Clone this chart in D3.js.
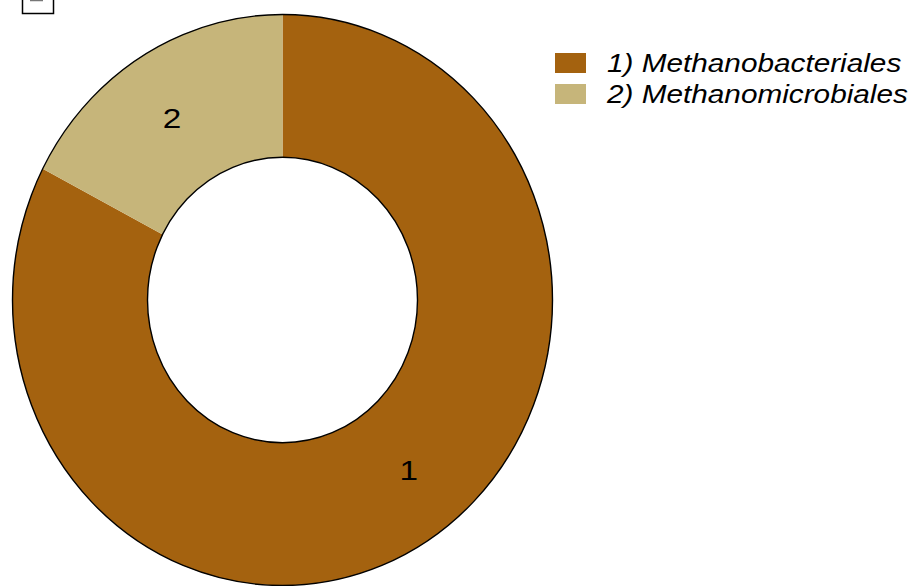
<!DOCTYPE html>
<html>
<head>
<meta charset="utf-8">
<script src="https://cdn.jsdelivr.net/npm/d3@7"></script>
<style>
  body { margin: 0; background: #fff; }
  svg { display: block; }
</style>
</head>
<body>
<div id="chart"></div>
<script>
// data
var orders = ['1) Methanobacteriales', '2) Methanomicrobiales'];
var labels = ['1', '2'];
var shares = [82.6, 17.4];
// where the number labels sit, as a fraction of the ring (clockwise from top)
var labelAt = [0.394, 0.909];
var colours = ['#a4620f', '#c6b57a'];

var w = 916, h = 586;

var svg = d3.select('#chart')
    .append('svg')
    .attr('width', w)
    .attr('height', h);

// ring is slightly taller than wide (polar coords stretched to panel)
var cx = 282.5, cy = 300;
var rx = 270, ry = 285.5;
var inner = 0.5;
// text in the original is drawn a bit wider than normal
var textStretch = 1.19;

var pie = d3.pie().sort(null).value(function (d) { return d; });
var arcs = pie(shares);

var arc = d3.arc()
    .innerRadius(rx * inner)
    .outerRadius(rx);

var ring = svg.append('g')
    .attr('transform', 'translate(' + cx + ',' + cy + ') scale(1,' + (ry / rx) + ')');

ring.selectAll('path.slice')
    .data(arcs)
    .enter()
    .append('path')
    .attr('class', 'slice')
    .attr('d', arc)
    .attr('fill', function (d, i) { return colours[i]; });

// outline only on the outer and inner edges
[rx, rx * inner].forEach(function (r) {
    ring.append('circle')
        .attr('r', r)
        .attr('fill', 'none')
        .attr('stroke', '#000')
        .attr('stroke-width', 1.4)
        .attr('vector-effect', 'non-scaling-stroke');
});

// number labels
var labRadius = 0.757;
svg.selectAll('text.lab')
    .data(labels)
    .enter()
    .append('text')
    .attr('class', 'lab')
    .attr('transform', function (d, i) {
        var a = labelAt[i] * 2 * Math.PI;
        var x = cx + Math.sin(a) * rx * labRadius;
        var y = cy - Math.cos(a) * ry * labRadius;
        return 'translate(' + x + ',' + y + ') scale(' + textStretch + ',1)';
    })
    .attr('dy', '0.36em')
    .attr('text-anchor', 'middle')
    .style('font-family', 'Liberation Sans, Arial, sans-serif')
    .style('font-size', '28px')
    .text(function (d) { return d; });

// legend
var legend = svg.append('g')
    .attr('transform', 'translate(555,53)');

var rows = legend.selectAll('g')
    .data(orders)
    .enter()
    .append('g')
    .attr('transform', function (d, i) { return 'translate(0,' + (i * 31) + ')'; });

rows.append('rect')
    .attr('width', 31)
    .attr('height', 20)
    .attr('fill', function (d, i) { return colours[i]; });

rows.append('text')
    .attr('transform', 'translate(52,19) scale(' + textStretch + ',1)')
    .style('font-family', 'Liberation Sans, Arial, sans-serif')
    .style('font-style', 'italic')
    .style('font-size', '25px')
    .text(function (d) { return d; });

// clipped tag box in the top-left corner
svg.append('rect')
    .attr('x', 22.5)
    .attr('y', -20)
    .attr('width', 31)
    .attr('height', 33.5)
    .attr('fill', 'none')
    .attr('stroke', '#000')
    .attr('stroke-width', 1.5);

svg.append('line')
    .attr('x1', 30).attr('x2', 43)
    .attr('y1', 0.5).attr('y2', 0.5)
    .attr('stroke', '#777')
    .attr('stroke-width', 1.5);
</script>
</body>
</html>
